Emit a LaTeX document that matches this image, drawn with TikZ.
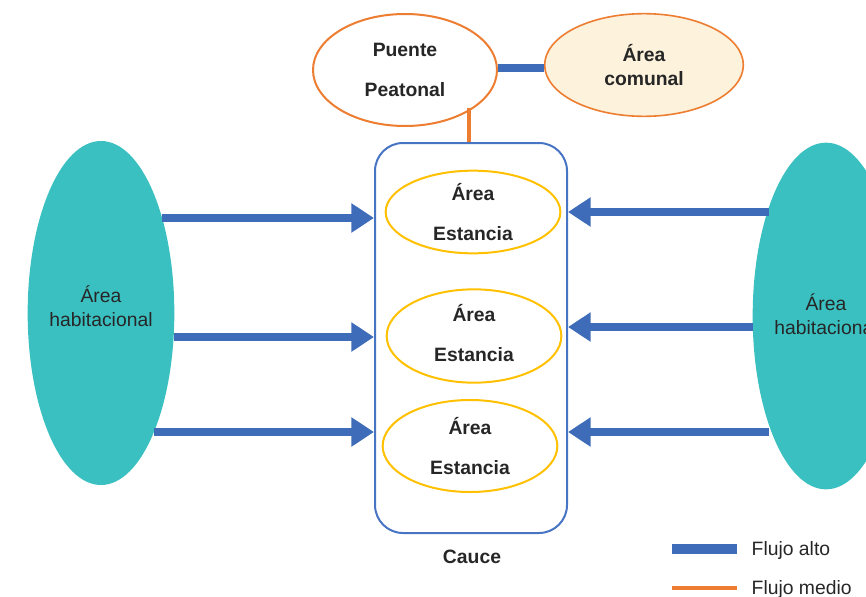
\documentclass[tikz,border=0pt]{standalone}
\usepackage{fontspec}
\setmainfont{Liberation Sans}
\usetikzlibrary{calc, arrows.meta, shapes.geometric}

\definecolor{azul}{RGB}{63,108,184}
\definecolor{azulc}{RGB}{72,116,196}
\definecolor{naranja}{RGB}{237,125,49}
\definecolor{amarillo}{RGB}{255,192,0}
\definecolor{turquesa}{RGB}{59,192,193}
\definecolor{crema}{RGB}{253,242,220}
\definecolor{texto}{RGB}{38,38,38}

\begin{document}
\begin{tikzpicture}[x=0.75pt, y=-0.75pt, text=texto,
  font=\fontsize{14.5}{18}\selectfont,
  elipse/.style={ellipse, line width=1.5pt, inner sep=-4pt, align=center,
    font=\fontsize{14.5}{18}\selectfont\bfseries},
  habit/.style={ellipse, fill=turquesa, inner sep=0pt, align=center,
    minimum width=110pt, minimum height=258pt},
  flujo/.style={azul, line width=6pt, -{Triangle[length=17pt, width=21pt]}}]
  \clip (0,0) rectangle (866,596);

  % puntos de salida de las flechas (borde de las elipses)
  \coordinate (a1) at (162,218);
  \coordinate (a2) at (174,337);
  \coordinate (a3) at (154,432);
  \coordinate (b1) at (769,212);
  \coordinate (b2) at (753,327);
  \coordinate (b3) at (769,432);
  \coordinate (p0) at (469,108);   % bajo el puente

  % parte superior
  \node[elipse, draw=naranja, fill=white, minimum width=138pt, minimum height=84pt]
    (puente) at (405,70) {Puente\\[12pt]Peatonal};
  \node[elipse, draw=naranja, fill=crema, line width=1.2pt, minimum width=149pt, minimum height=77pt]
    (comunal) at (644,65) {Área\\comunal};
  \draw[azul, line width=6pt] (puente.east |- 0,68) -- (comunal.west |- 0,68);

  % cauce
  \node[draw=azulc, line width=1.5pt, rounded corners=21pt,
    minimum width=144pt, minimum height=292.5pt] (cauce) at (471,338) {};
  \draw[naranja, line width=3pt] (p0) -- (p0 |- cauce.north);
  \node[font=\fontsize{14.5}{18}\selectfont\bfseries] (lcauce) at (472,557) {Cauce};

  \node[elipse, draw=amarillo, minimum width=131pt, minimum height=62pt]
    (est1) at (473,212) {Área\\[12pt]Estancia};
  \node[elipse, draw=amarillo, minimum width=131pt, minimum height=70pt, text depth=4pt]
    (est2) at (474,336) {Área\\[12pt]Estancia};
  \node[elipse, draw=amarillo, minimum width=131pt, minimum height=69pt]
    (est3) at (470,446) {Área\\[12pt]Estancia};

  % zonas habitacionales
  \node[habit, text depth=10pt] (hizq) at (101,313) {Área\\habitacional};
  \node[habit, minimum height=260pt, text depth=3pt] (hder) at (826,316) {Área\\habitacional};

  % flujos
  \draw[flujo] (a1) -- (cauce.west |- a1);
  \draw[flujo] (a2) -- (cauce.west |- a2);
  \draw[flujo] (a3) -- (cauce.west |- a3);
  \draw[flujo] (b1) -- (cauce.east |- b1);
  \draw[flujo] (b2) -- (cauce.east |- b2);
  \draw[flujo] (b3) -- (cauce.east |- b3);

  % leyenda
  \coordinate (l1) at (672,549);
  \coordinate (l2) at (737,549);
  \coordinate (m1) at (672,588);
  \coordinate (m2) at (737,588);
  \draw[azul, line width=7pt] (l1) -- (l2);
  \draw[naranja, line width=3.5pt] (m1) -- (m2);
  \node[right] (lalto) at (747,550) {Flujo alto};
  \node[right] (lmedio) at (747,589) {Flujo medio};
\end{tikzpicture}
\end{document}
